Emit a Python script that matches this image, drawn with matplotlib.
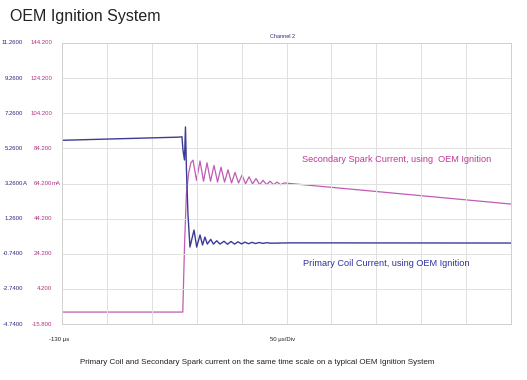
import matplotlib
matplotlib.use("Agg")
import matplotlib.pyplot as plt
from matplotlib.transforms import blended_transform_factory

plt.rcParams['font.family'] = ['Liberation Sans', 'DejaVu Sans']

# ---- data ----
volt_levels = [11.26, 9.26, 7.26, 5.26, 3.26, 1.26, -0.74, -2.74, -4.74]
volt_labels = ["11.2600", "9.2600", "7.2600", "5.2600", "3.2600", "1.2600", "-0.7400", "-2.7400", "-4.7400"]
ma_labels = ["144.200", "124.200", "104.200", "84.200", "64.200", "44.200", "24.200", "4.200", "-15.800"]
ma_min, ma_max = -15.8, 144.2
t_min, t_max, t_div = -130, 370, 50

# Primary coil current (A), time in µs
prim_t = [-130, 0, 3.6, 4.7, 6.4, 7.5, 8.6, 10.3, 12.5, 17.0, 20.0, 23.7, 26.5, 29.2, 31.8,
          35.6, 38.6, 42.3, 45.9, 50.4, 54.3, 58.2, 62.1, 66.0, 69.9, 73.8, 77.7, 81.6,
          85.5, 89.4, 93.8, 98.3, 102.7, 124, 370]
prim_v = [5.72, 5.90, 5.92, 5.17, 4.60, 6.48, 4.03, 1.47, -0.36, 0.61, -0.36, 0.33, -0.24, 0.21, -0.19,
          0.08, -0.19, 0.00, -0.19, -0.03, -0.20, -0.04, -0.19, -0.06, -0.18, -0.08, -0.17, -0.09,
          -0.16, -0.10, -0.15, -0.11, -0.14, -0.12, -0.13]

# Secondary spark current (mA)
sec_t = [-130, 4.5, 6.5, 8.5, 11, 13.5, 15.9, 19.8, 23.7, 27.6, 31.5, 35.4, 39.3, 43.2, 47.1,
         51.0, 54.9, 58.8, 62.7, 66.6, 70.5, 74.4, 78.3, 82.2, 86.1, 90.0, 93.9, 97.8,
         101.7, 105.6, 109.5, 113.4, 117.3, 124, 370]
sec_ma = [-9.0, -9.0, 30, 58, 70, 76, 77.5, 66, 77, 65.5, 76, 65.5, 74.5, 65, 73.5,
          65, 72, 64.5, 70.5, 64.5, 69, 64, 68, 64, 67, 63.5, 66, 63.5,
          65.5, 63.5, 65, 63.5, 64.5, 64.2, 52.5]

blue = '#3c3c98'
mag = '#c05cb4'
mag_txt = '#c0389a'

fig = plt.figure(figsize=(5.27, 3.80), dpi=100)
ax = fig.add_axes([62/527, 1-324/380, 449/527, 281/380])
ax2 = ax.twinx()

ax.set_xlim(t_min, t_max)
ax.set_ylim(volt_levels[-1], volt_levels[0])
ax2.set_ylim(ma_min, ma_max)

ax.set_xticks(list(range(t_min, t_max + 1, t_div)))
ax.set_yticks(volt_levels)
ax.grid(True, color='#e0e0e0', lw=0.7)
ax.tick_params(length=0, labelleft=False, labelbottom=False)
ax2.tick_params(length=0, labelright=False)
for a in (ax, ax2):
    for s in a.spines.values():
        s.set_color('#d0d0d0')
        s.set_linewidth(0.7)

ax2.plot(sec_t, sec_ma, color=mag, lw=0.9, solid_joinstyle='round')
ax.plot(prim_t, prim_v, color=blue, lw=1.0, solid_joinstyle='round')
ax.set_zorder(ax2.get_zorder() + 1)
ax.patch.set_visible(False)

# left scale labels
tr = blended_transform_factory(fig.transFigure, ax.transData)
for v, vl, ml in zip(volt_levels, volt_labels, ma_labels):
    ax.text(23/527, v, vl, transform=tr, ha='right', va='center', fontsize=4.3, color='#2a2a80')
    ax.text(52/527, v, ml, transform=tr, ha='right', va='center', fontsize=4.3, color='#b03080')
    if vl == "3.2600":
        ax.text(23/527, v, "A", transform=tr, ha='left', va='center', fontsize=4.3, color='#2a2a80')
        ax.text(52/527, v, "mA", transform=tr, ha='left', va='center', fontsize=4.3, color='#b03080')

fig.text(10/527, 1-17/380, "OEM Ignition System", fontsize=11.5, color='#222222', ha='left', va='center')
fig.text(282/527, 1-37/380, "Channel 2", fontsize=4, color='#2a2a80', ha='center', va='center')
fig.text(59/527, 1-339/380, "-130 µs", fontsize=4.3, color='#222222', ha='center', va='center')
fig.text(283/527, 1-339/380, "50 µs/Div", fontsize=4.3, color='#222222', ha='center', va='center')
fig.text(257/527, 1-362/380,
         "Primary Coil and Secondary Spark current on the same time scale on a typical OEM Ignition System",
         fontsize=5.8, color='#222222', ha='center', va='center')
fig.text(302/527, 1-160/380, "Secondary Spark Current, using  OEM Ignition",
         fontsize=6.6, color=mag_txt, ha='left', va='center')
fig.text(303/527, 1-263/380, "Primary Coil Current, using OEM Ignition",
         fontsize=6.6, color='#3030a0', ha='left', va='center')

fig.savefig("out.png", dpi=100)
